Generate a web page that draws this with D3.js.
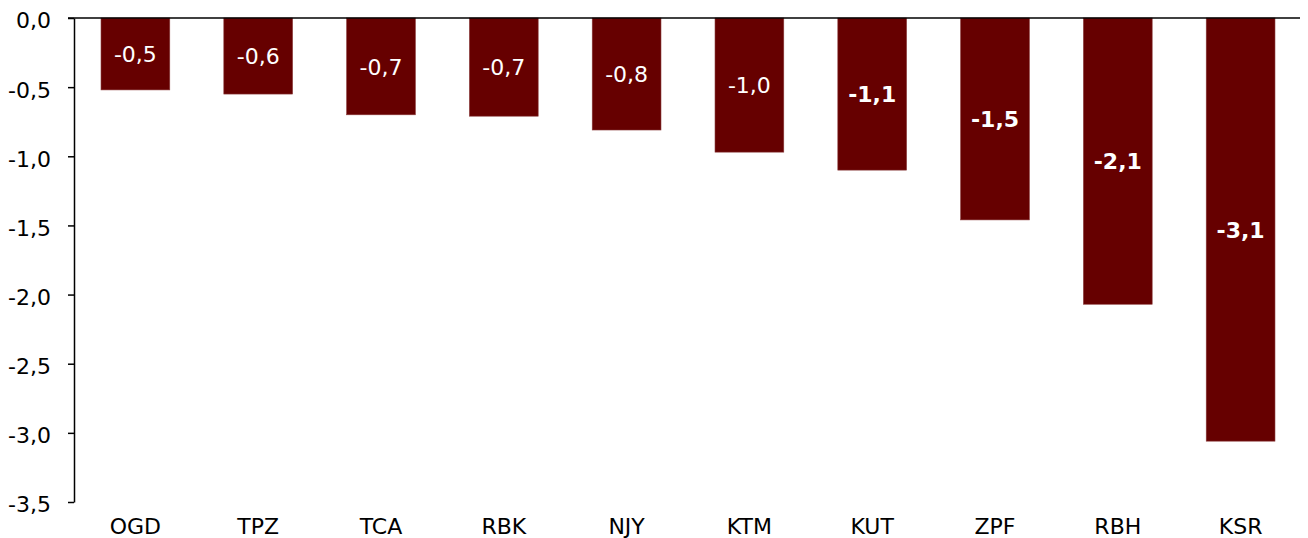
<!DOCTYPE html>
<html>
  <head>
    <meta charset="utf-8">
    <title>Bar chart</title>
    <script src="https://cdn.jsdelivr.net/npm/d3@7"></script>
    <style>
      body { margin: 0; background: #fff; }
      text { font-family: "DejaVu Sans", sans-serif; }
    </style>
  </head>
  <body>
    <script>

      var categories = ["OGD", "TPZ", "TCA", "RBK", "NJY", "KTM", "KUT", "ZPF", "RBH", "KSR"];
      var values = [-0.52, -0.55, -0.70, -0.71, -0.81, -0.97, -1.10, -1.46, -2.07, -3.06];
      var labels = ["-0,5", "-0,6", "-0,7", "-0,7", "-0,8", "-1,0", "-1,1", "-1,5", "-2,1", "-3,1"];
      var boldLabel = [false, false, false, false, false, false, true, true, true, true];
      var yTicks = [0, -0.5, -1, -1.5, -2, -2.5, -3, -3.5];

      var width = 1308, height = 538;
      var margin = {top: 18, right: 6, bottom: 36, left: 74};
      var font = "\"DejaVu Sans\", sans-serif";

      var svg = d3.select("body")
                  .append("svg")
                  .attr("width", width)
                  .attr("height", height);

      var x = d3.scaleBand()
                .domain(categories)
                .range([margin.left, width - margin.right])
                .paddingInner(0.44)
                .paddingOuter(0.22);

      var y = d3.scaleLinear()
                .domain([0, -3.5])
                .range([margin.top, height - margin.bottom]);

      // bars
      svg.selectAll("rect.bar")
         .data(values)
         .enter()
         .append("rect")
         .attr("class", "bar")
         .attr("x", function(d, i) { return x(categories[i]); })
         .attr("y", y(0))
         .attr("width", x.bandwidth())
         .attr("height", function(d) { return y(d) - y(0); })
         .attr("fill", "#660000")
         .attr("stroke", "#8a3a3a")
         .attr("stroke-width", 0.6);

      // value labels, centred in the bar
      svg.selectAll("text.val")
         .data(values)
         .enter()
         .append("text")
         .attr("class", "val")
         .attr("x", function(d, i) { return x(categories[i]) + x.bandwidth() / 2; })
         .attr("y", function(d) { return (y(0) + y(d)) / 2; })
         .attr("dy", "0.38em")
         .attr("text-anchor", "middle")
         .attr("fill", "#fff")
         .style("font-size", "22px")
         .style("font-family", font)
         .attr("font-weight", function(d, i) { return boldLabel[i] ? "bold" : "normal"; })
         .text(function(d, i) { return labels[i]; });

      // y axis
      var yAxis = d3.axisLeft(y)
                    .tickValues(yTicks)
                    .tickSize(6)
                    .tickSizeOuter(0)
                    .tickFormat(function(d) { return d3.format(".1f")(d).replace(".", ",").replace("−", "-"); });

      var gy = svg.append("g")
                  .attr("transform", "translate(" + margin.left + ",0)")
                  .call(yAxis);
      gy.select(".domain").attr("stroke", "#000").attr("stroke-width", 1.5);
      gy.selectAll(".tick line").attr("stroke", "#000").attr("stroke-width", 1.5);
      gy.selectAll(".tick text")
        .attr("fill", "#000")
        .attr("x", -23)
        .attr("dy", "0.45em")
        .style("font-size", "22px")
        .style("font-family", font);

      // zero line
      svg.append("line")
         .attr("x1", margin.left - 6)
         .attr("x2", width - 8)
         .attr("y1", y(0))
         .attr("y2", y(0))
         .attr("stroke", "#000")
         .attr("stroke-width", 1.5);

      // category labels
      var xAxis = d3.axisBottom(x).tickSize(0);
      var gx = svg.append("g")
                  .attr("transform", "translate(0," + (height - margin.bottom) + ")")
                  .call(xAxis);
      gx.select(".domain").remove();
      gx.selectAll(".tick text")
        .attr("fill", "#000")
        .attr("y", 16)
        .style("font-size", "22px")
        .style("font-family", font);

    </script>
  </body>
</html>
